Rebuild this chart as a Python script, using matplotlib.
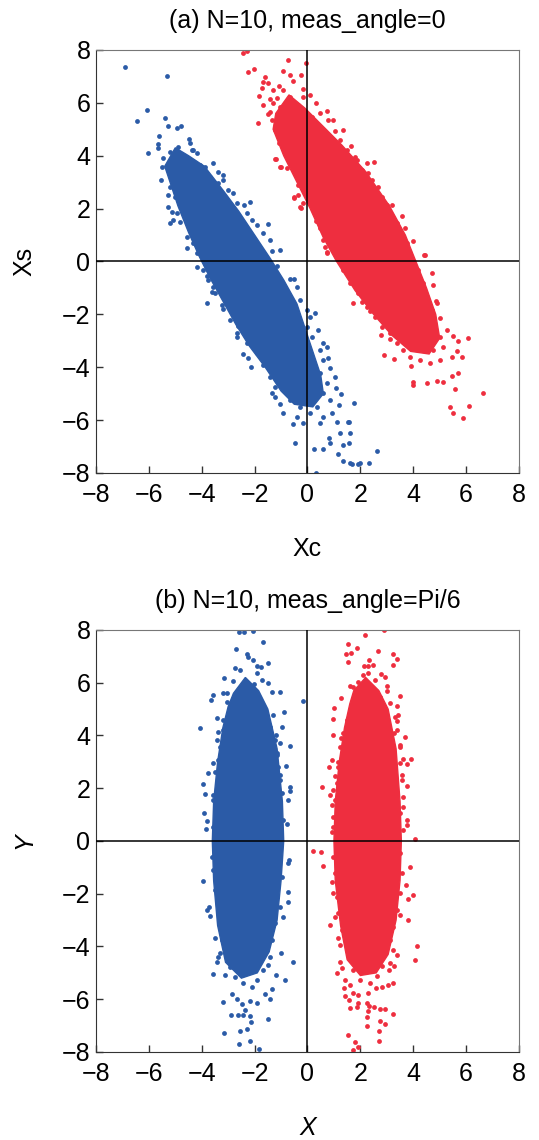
import matplotlib.pyplot as plt

plt.rcParams['font.family'] = ['Liberation Sans', 'DejaVu Sans']
plt.rcParams['font.size'] = 18

BLUE = '#2b5ba7'
RED = '#ee2e3f'

# ---------------------------------------------------------------------------
# (a) meas_angle = 0
# filled middle of each cloud (outline)
a_blue_core_x = [-5.4, -5.0, -4.5, -3.9, -3.2, -2.6, -2.0, -1.4, -0.9, -0.4, -0.1,
                 0.2, 0.5, 0.6, 0.2, -0.5, -1.0, -1.6, -2.2, -2.7, -3.2,
                 -3.7, -4.1, -4.5, -4.9, -5.2]
a_blue_core_y = [3.6, 4.3, 4.0, 3.6, 2.7, 1.9, 1.0, 0.1, -0.7, -1.6, -2.5,
                 -3.4, -4.3, -5.0, -5.5, -5.4, -4.9, -4.0, -3.2, -2.4, -1.5,
                 -0.6, 0.2, 1.1, 2.1, 3.0]
a_red_core_x = [-1.2, -0.7, -0.1, 0.5, 1.3, 2.2, 3.1, 3.7, 4.1, 4.5, 4.85,
                5.0, 4.6, 3.9, 3.2, 2.5, 1.8, 1.1, 0.6, 0.1, -0.4,
                -0.9, -1.3]
a_red_core_y = [5.6, 6.3, 5.8, 5.2, 4.4, 3.4, 2.1, 1.0, 0.0, -1.0, -2.0,
                -2.9, -3.5, -3.4, -2.8, -2.0, -1.1, 0.0, 0.9, 2.0, 3.0,
                4.0, 5.0]

# loose points round the edges
a_blue_x = [-6.90, -5.33, -6.06, -6.46, -5.39, -5.26, -4.95, -4.80, -5.62, -5.64,
            -5.64, -6.04, -5.20, -4.47, -4.89, -4.32, -5.45, -5.51, -5.55, -5.26,
            -5.14, -5.20, -4.57, -3.56, -3.37, -3.18, -2.17, -2.40, -1.48, -1.04,
            -1.35, -0.51, -0.41, -0.28, -0.03, 0.28, 0.41, 0.60, 0.75, 0.79,
            0.85, 1.04, 1.08, 1.26, 1.20, 1.10, 1.54, 1.61, 1.23, 0.82,
            0.85, 1.35, 1.58, 1.17, 1.33, 1.61, 1.92, 0.26, 0.57, 0.31,
            -0.48, -0.54, -0.18, -0.94, -1.23, -1.35, -1.04, -2.14, -2.43, -2.24,
            -2.68, -2.62, -3.18, -3.50, -3.62, -3.81, -3.81, -4.19, -1.14, -0.66,
            -0.56, 1.77, 2.64, 2.34, 1.99, 1.67, 1.57,
            -4.44, -4.38, -4.57, -5.01, -5.14, -4.89, -5.08, -4.82, -5.20, -5.01,
            -4.70, -4.19, -4.07, -3.88, -3.69, -3.37, -3.18, -3.00, -2.81, -2.68,
            -2.30, -2.11, -1.92, -1.67, -1.42, -5.26, -4.95, -4.82, -5.08, -4.44,
            -4.57, -4.32, -4.19, 0.09, -0.03, 0.16, 0.47, 0.60, 0.47, 0.73,
            0.60, 0.85, 0.35, 0.09, -0.28, -0.66, -0.41, 0.60, 0.47, 0.91,
            -1.92, -1.67, -1.42, -1.23, -2.30, -2.68, -2.93, -3.25, -3.56, -3.75,
            -3.94]
a_blue_y = [7.36, 7.03, 5.73, 5.33, 5.42, 5.13, 5.06, 5.13, 4.75, 4.44,
            4.28, 4.12, 4.15, 4.62, 4.32, 4.22, 3.90, 3.59, 3.08, 2.52,
            1.88, 1.47, 0.50, 3.71, 3.40, 3.27, 2.24, 2.14, 1.42, 0.43,
            0.41, -0.67, -0.98, -1.46, -1.83, -1.96, -2.59, -3.09, -3.22, -3.66,
            -4.04, -4.36, -4.80, -5.01, -5.43, -6.06, -6.06, -6.48, -6.50, -6.69,
            -6.88, -6.94, -6.88, -7.28, -7.53, -7.63, -7.67, -7.09, -7.10, -7.99,
            -6.85, -6.16, -6.12, -5.72, -5.11, -4.99, -5.40, -4.00, -3.51, -3.66,
            -2.72, -2.44, -1.81, -1.20, -1.14, -1.56, -0.55, -0.20, -0.17, -0.67,
            -1.52, -5.36, -7.16, -7.63, -7.63, -7.67, -6.06,
            4.47, 4.22, 3.90, 3.84, 3.40, 3.27, 2.96, 3.08, 2.83, 2.45,
            2.58, 4.09, 3.65, 3.59, 3.21, 2.96, 3.08, 2.70, 2.58, 2.20,
            1.82, 1.57, 1.38, 1.07, 0.81, 2.07, 1.82, 1.51, 1.57, 1.32,
            0.94, 0.69, 0.31, -2.09, -2.47, -2.84, -3.35, -3.73, -4.23, -4.61,
            -4.99, -5.24, -5.49, -5.74, -5.49, -5.24, -5.87, -5.87, -6.12, -5.74,
            -3.47, -3.91, -4.36, -4.74, -3.09, -2.84, -2.21, -1.65, -0.95, -0.70,
            -0.32]
a_red_x = [-2.45, -2.30, -0.73, -0.06, -2.24, -2.02, -0.92, -0.66, -0.25, -1.61,
           -1.67, -0.54, -1.48, -1.07, -1.73, -1.29, -0.16, -1.82, -1.42, -1.16,
           -1.67, -1.04, 0.09, 0.32, 0.75, -1.48, -1.86, -1.35, -1.23, 0.79,
           0.98, 1.04, 1.35, -0.98, -1.07, -1.23, -1.04, -0.79, -0.47, 1.65,
           1.80, 2.24, 2.52, 2.30, 2.68, 2.83, 3.00, 3.18, 3.56, 3.69,
           4.00, 4.42, -0.35, -0.18, -0.51, -0.28, 0.32, 0.75, 0.47, 0.60,
           -1.19, -1.00, -0.51, -0.26, -0.35, -0.16, 0.75, 1.73, 2.05, 2.36,
           2.77, 2.89, 3.28, 3.12, 3.91, 4.00, 4.00, 4.51, 4.89, 5.14,
           5.45, 5.70, 5.45, 5.67, 5.83, 5.52, 5.70, 6.08, 5.26, 5.01,
           4.89, 4.85, 4.73, 4.70, 4.44, 5.58, 6.65, 5.39, 5.52, 5.89, 6.12,
           -0.92, -0.66, -0.85, -0.54, -0.73, -0.41, -1.04, -1.16, -0.79, -0.35,
           -0.09, 0.16, 0.47, -0.35, -0.16, -1.29, -1.42,
           1.23, 1.48, 1.86, 2.05, 2.43, 2.62, 2.87, 3.12, 3.37, 3.50,
           3.75, 3.88, -0.03, 0.09, 0.28, 0.54, 0.66, 1.35, 1.61, 1.92,
           2.24, 2.55, 2.81, 3.12, 3.37, 3.62, 3.88, 4.25, 4.63, 5.01,
           4.76, 5.14, 5.01, 4.76, 4.70, 4.51, 4.38, 4.19]
a_red_y = [7.90, 7.96, 7.62, 7.50, 7.18, 7.27, 7.22, 7.05, 7.05, 6.99,
           6.80, 6.84, 6.76, 6.64, 6.55, 6.49, 6.51, 6.26, 6.13, 6.17,
           5.92, 5.85, 6.30, 5.98, 5.70, 5.58, 5.23, 5.35, 4.97, 5.35,
           5.35, 4.95, 4.97, 4.66, 4.49, 3.87, 3.59, 3.55, 3.65, 4.37,
           3.94, 3.71, 3.75, 3.36, 2.83, 2.45, 2.14, 2.14, 1.72, 1.26,
           0.78, 0.25, 2.89, 2.77, 2.41, 2.07, 1.54, 0.37, 1.26, 0.81,
           3.87, 3.59, 2.45, 2.03, 2.52, 2.20, 0.33, -1.56, -1.52, -1.87,
           -2.78, -3.54, -3.70, -2.94, -3.95, -4.55, -4.67, -4.58, -4.52, -4.55,
           -4.33, -4.21, -3.60, -3.37, -3.60, -2.82, -3.00, -2.91, -2.59, -2.15,
           -1.58, -1.48, -0.89, -0.42, 0.25, -4.83, -4.98, -5.49, -5.74, -5.91, -5.47,
           6.49, 6.23, 5.98, 5.92, 5.67, 5.60, 5.42, 5.16, 5.10, 5.23,
           5.35, 5.48, 5.60, 5.92, 6.23, 5.98, 5.67,
           4.60, 4.22, 3.84, 3.46, 3.08, 2.58, 2.20, 1.82, 1.44, 1.07,
           0.69, 0.31, 3.08, 2.45, 1.82, 1.19, 0.56, -0.32, -0.82, -1.20,
           -1.71, -2.09, -2.47, -2.72, -3.09, -3.35, -3.60, -3.73, -3.85, -3.73,
           -3.35, -3.22, -2.84, -2.47, -1.83, -1.33, -0.82, -0.32]

# ---------------------------------------------------------------------------
# (b) meas_angle = Pi/6
b_blue_core_x = [-2.8, -2.35, -1.85, -1.5, -1.15, -0.95, -0.9, -1.0, -1.15, -1.45, -1.9,
                 -2.5, -3.1, -3.4, -3.55, -3.6, -3.55, -3.4, -3.2, -3.0]
b_blue_core_y = [5.6, 6.2, 5.7, 5.0, 3.5, 1.5, 0.0, -1.5, -3.0, -4.2, -5.0,
                 -5.2, -4.6, -3.2, -1.5, 0.0, 1.5, 3.0, 4.3, 5.1]
b_red_core_x = [1.75, 2.2, 2.7, 3.05, 3.35, 3.5, 3.55, 3.5, 3.35, 3.05, 2.6,
                2.0, 1.5, 1.25, 1.05, 1.0, 1.05, 1.2, 1.4, 1.6]
b_red_core_y = [5.7, 6.2, 5.7, 5.0, 3.5, 1.5, 0.0, -1.5, -3.0, -4.3, -5.0,
                -5.1, -4.5, -3.2, -1.5, 0.0, 1.5, 3.0, 4.3, 5.2]

b_blue_x = [-2.58, -2.40, -2.07, -1.67, -2.72, -2.30, -2.26, -2.05, -1.90, -1.77,
            -1.48, -2.74, -2.55, -1.90, -1.73, -3.16, -2.83, -2.36, -1.48, -2.43,
            -2.02, -3.18, -3.06, -3.56, -3.64, -2.68, -1.35, -1.04, -3.06, -2.87,
            -0.89, -0.18, -3.41, -3.18, -4.07, -1.29, -0.95, -3.37, -3.43, -1.19,
            -0.66, -1.04, -3.56, -3.77, -0.81, -1.14, -1.04, -3.94, -3.88, -0.66,
            -0.66, -0.75, -3.56, -3.91, -3.85, -0.76, -3.81,
            -0.69, -0.73, -3.94, -3.81, -3.69, -3.71, -0.73, -0.73, -0.92, -1.04,
            -3.50, -3.43, -3.37, -3.59, -3.31, -3.12, -1.01, -0.56, -1.19, -0.85,
            -1.42, -1.48, -1.33, -1.61, -1.42, -2.87, -3.21, -2.68, -2.49, -2.17,
            -1.92, -2.36, -2.90, -2.62, -2.43, -2.17, -2.15, -1.51, -3.15, -2.55,
            -2.30, -2.58, -2.17, -1.82,
            -3.31, -3.37, -3.50, -3.37, -3.56, -3.43, -3.56, -3.18, -3.00, -2.81,
            -2.62, -1.42, -1.23, -1.16, -1.10, -1.04, -0.98, -1.04, -0.92, -1.61,
            -1.80, -2.11, -2.30, -3.62, -3.56, -3.50, -3.43, -3.31, -3.25, -3.06,
            -2.93, -2.74, -2.43, -1.04, -0.98, -1.16, -1.23, -1.35, -1.54, -1.67,
            -1.92, -2.11]
b_blue_y = [7.91, 7.91, 7.95, 7.55, 7.27, 7.08, 6.96, 6.88, 6.63, 6.58,
            6.73, 6.54, 6.50, 6.38, 6.12, 6.19, 6.07, 6.03, 6.00, 5.84,
            5.97, 5.62, 5.62, 5.53, 5.34, 5.47, 5.66, 5.63, 5.28, 5.22,
            4.90, 5.31, 4.65, 4.58, 4.29, 4.77, 4.31, 4.14, 3.83, 4.02,
            3.60, 3.70, 2.97, 2.56, 2.84, 3.26, 2.50, 2.16, 1.78, 2.06,
            1.91, 1.55, 1.74, 1.07, 0.45, 0.64, 0.76,
            -0.72, -0.85, -1.52, -2.61, -2.84, -2.49, -1.92, -2.30, -2.89, -2.49,
            -3.66, -4.57, -4.38, -5.05, -4.25, -5.10, -4.23, -4.60, -5.08, -5.27,
            -4.38, -4.70, -5.62, -5.80, -6.00, -5.80, -6.11, -6.00, -6.17, -6.05,
            -6.15, -6.40, -6.59, -6.59, -6.59, -6.65, -6.88, -6.74, -7.28, -7.22,
            -7.13, -7.69, -7.60, -7.88,
            3.57, 3.07, 2.62, 2.19, 1.55, 1.05, 0.54, 4.20, 4.58, 4.96,
            5.22, 4.33, 3.83, 3.32, 2.81, 2.31, 1.81, 1.30, 0.80, 4.96,
            5.34, 5.66, 5.47, -0.59, -1.10, -1.86, -2.23, -3.12, -3.75, -4.13,
            -4.77, -5.15, -5.39, -0.34, -1.35, -2.11, -3.12, -3.75, -4.13, -4.89,
            -5.27, -5.52]
b_red_x = [2.89, 2.17, 1.54, 1.88, 1.46, 1.63, 2.66, 3.25, 3.40, 1.54,
           2.14, 2.30, 2.47, 3.25, 2.34, 2.11, 2.30, 2.78, 2.93, 1.92,
           2.55, 1.61, 1.73, 3.02, 2.05, 2.59, 3.02, 3.50, 1.26, 1.80,
           1.01, 0.98, 3.43, 3.40, 3.37, 0.95, 1.26, 3.69, 3.50, 3.28,
           1.42, 1.29, 3.91, 3.62, 3.75, 0.94, 0.82, 1.16, 1.04, 3.56,
           3.77, 0.54, 0.98, 0.85, 0.92, 3.62, 3.75, 3.77, 0.92, 4.07,
           0.22, 0.50, 0.57, 0.92, 0.98, 0.85, 1.04, 3.88, 3.73, 4.00,
           3.81, 3.50, 3.79, 4.13, 4.07, 3.25, 3.40, 3.12, 3.28, 1.16,
           1.23, 1.23, 1.13, 1.29, 1.42, 1.38, 1.61, 3.09, 3.25, 3.06,
           2.81, 2.59, 2.30, 1.92, 1.73, 1.42, 1.58, 1.61, 1.92, 1.88,
           2.24, 2.34, 2.52, 2.74, 2.93, 3.22, 2.30, 2.24, 2.74, 2.93,
           2.24, 2.70, 1.54, 1.80, 1.92, 1.71, 2.70,
           1.48, 1.35, 1.23, 1.16, 1.10, 1.04, 0.98, 0.98, 1.67, 1.86,
           3.12, 3.31, 3.37, 3.50, 3.50, 3.56, 3.62, 3.50, 3.62, 2.74,
           2.49, 0.98, 1.04, 1.10, 1.16, 1.29, 1.48, 1.61, 1.73, 1.99,
           3.50, 3.56, 3.50, 3.37, 3.25, 3.12, 2.93, 2.81, 2.62, 2.36]
b_red_y = [7.99, 7.80, 7.45, 7.30, 7.08, 7.11, 7.21, 7.07, 6.89, 6.79,
           6.63, 6.63, 6.67, 6.69, 6.88, 6.29, 6.35, 6.33, 6.22, 6.03,
           6.10, 5.87, 5.84, 5.87, 5.87, 5.69, 5.69, 5.49, 5.41, 5.57,
           5.03, 4.61, 4.77, 5.11, 4.55, 4.02, 3.89, 3.93, 3.64, 4.08,
           3.57, 3.22, 3.09, 3.09, 2.91, 3.07, 2.81, 3.00, 2.46, 2.50,
           2.08, 2.03, 1.93, 1.74, 1.36, 1.30, 0.80, 0.61, 0.35, 0.06,
           -0.37, -0.41, -0.95, -1.54, -1.96, -3.18, -2.87, -1.00, -1.67, -2.05,
           -2.21, -2.80, -2.99, -4.00, -4.51, -4.13, -4.32, -4.63, -4.73, -3.69,
           -3.94, -4.57, -5.01, -4.82, -5.27, -5.58, -5.45, -4.89, -5.39, -5.45,
           -5.52, -5.58, -5.75, -5.83, -5.77, -5.87, -6.02, -6.34, -6.15, -6.28,
           -6.15, -6.24, -6.30, -6.38, -6.38, -6.57, -6.43, -6.66, -6.81, -6.93,
           -7.03, -7.19, -7.35, -7.62, -7.81, -7.94, -7.60,
           4.58, 4.08, 3.57, 2.81, 2.19, 1.55, 0.92, 0.54, 4.96, 5.34,
           5.22, 4.71, 4.20, 3.57, 2.94, 2.31, 1.68, 1.05, 0.42, 5.47,
           5.66, -0.59, -1.22, -2.11, -2.74, -3.37, -3.88, -4.38, -4.89, -5.27,
           -0.47, -1.22, -1.98, -2.61, -3.25, -3.75, -4.25, -4.75, -5.12, -5.37]

ticks = [-8, -6, -4, -2, 0, 2, 4, 6, 8]


###############################################################################
# One square panel with a blue and a red cloud and the two zero lines
def draw_panel(ax, clouds, title, xlabel, ylabel, style):
    for core_x, core_y, pts_x, pts_y, color in clouds:
        ax.fill(core_x, core_y, color=color, lw=1, zorder=1)
        ax.scatter(pts_x, pts_y, s=12, c=color, linewidths=0, zorder=2)
    ax.axhline(0, color='black', lw=1.1, zorder=3)
    ax.axvline(0, color='black', lw=1.1, zorder=3)

    ax.set_xlim(-8, 8)
    ax.set_ylim(-8, 8)
    ax.set_xticks(ticks)
    ax.set_yticks(ticks)
    ax.tick_params(direction='in', length=5, width=1, color='#333333', labelsize=18)
    ax.tick_params(axis='x', pad=7)
    ax.tick_params(axis='y', pad=4)
    for side in ['left', 'bottom']:
        ax.spines[side].set_color('#333333')
    for side in ['top', 'right']:
        ax.spines[side].set_color('#777777')

    ax.set_title(title, fontsize=18, pad=16)
    ax.set_xlabel(xlabel, fontsize=18, labelpad=22, style=style)
    ax.set_ylabel(ylabel, fontsize=18, labelpad=18, style=style)
###############################################################################

fig = plt.figure(figsize=(5.39, 11.40), dpi=100)
ax_a = fig.add_axes([0.1781, 0.5851, 0.7848, 0.3711])
ax_b = fig.add_axes([0.1781, 0.0772, 0.7848, 0.3702])

draw_panel(ax_a,
           [(a_blue_core_x, a_blue_core_y, a_blue_x, a_blue_y, BLUE),
            (a_red_core_x, a_red_core_y, a_red_x, a_red_y, RED)],
           '(a) N=10, meas_angle=0', 'Xc', 'Xs', 'normal')
draw_panel(ax_b,
           [(b_blue_core_x, b_blue_core_y, b_blue_x, b_blue_y, BLUE),
            (b_red_core_x, b_red_core_y, b_red_x, b_red_y, RED)],
           '(b) N=10, meas_angle=Pi/6', 'X', 'Y', 'italic')

fig.savefig('out.png', dpi=100)
plt.close()
